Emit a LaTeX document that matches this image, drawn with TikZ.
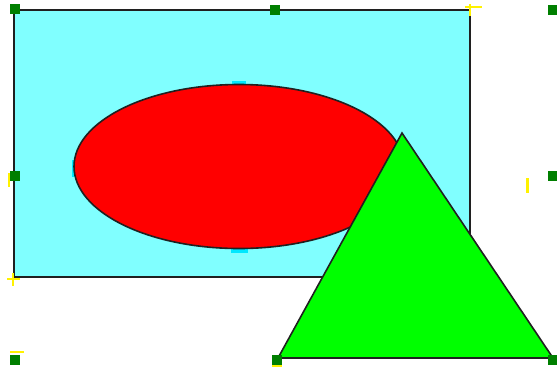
\documentclass[tikz,border=0pt]{standalone}
\definecolor{panel}{HTML}{80FFFF}
\definecolor{ghostcyan}{HTML}{00E8FF}
\definecolor{handlegreen}{HTML}{007F00}
\definecolor{edge}{HTML}{202020}

\begin{document}
\begin{tikzpicture}[
  x=1pt, y=-1pt,
  outline/.style={draw=edge, line width=1.6pt, line join=miter},
  handle/.style={fill=handlegreen, inner sep=0pt, minimum size=10pt},
  ghost/.style={fill=ghostcyan},
  tick/.style={draw=yellow, line width=2.2pt}
]
\useasboundingbox (0,0) rectangle (557,368);

% ---------------- shapes ----------------
\filldraw[outline, fill=panel] (14,10) rectangle (470,277);

% faint handles of the ellipse, peeking out
\fill[ghost] (232,81) rectangle (246,86);
\fill[ghost] (231,248) rectangle (248,253);
\fill[ghost] (72,160) rectangle (76,177);

\filldraw[outline, fill=red] (239,166.5) ellipse [x radius=165, y radius=82];

\filldraw[outline, fill=green] (402,133) -- (553,358) -- (278,358) -- cycle;

% ---------------- selection handles ----------------
\foreach \hx/\hy [count=\i] in {15/9, 275/10, 553/10, 15/176, 553/176, 15/360, 277/360, 553/360}
  \node[handle] (h\i) at (\hx,\hy) {};

% ---------------- yellow ticks ----------------
\draw[tick] (465,7) -- (482,7);
\draw[tick] (470,4) -- (470,16);
\draw[tick] (9,173) -- (9,187);
\draw[tick] (527.5,178) -- (527.5,193);
\draw[tick] (7,279) -- (20,279);
\draw[tick] (13,273) -- (13,286);
\draw[tick] (10,352) -- (24,352);
\draw[tick] (272,366) -- (282,366);

\end{tikzpicture}
\end{document}
